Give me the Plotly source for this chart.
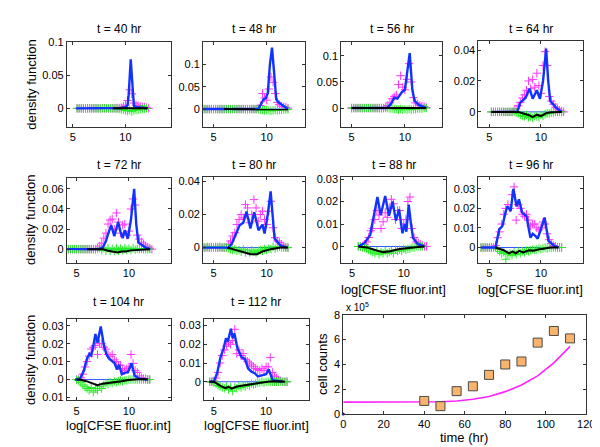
import plotly.graph_objects as go

# ---------------- data ----------------
# shared sampling grid of log CFSE intensity for the measured points
XG = [4.0, 4.2, 4.4, 4.6, 4.8, 5.0, 5.2, 5.4, 5.6, 5.8, 6.0, 6.2, 6.4, 6.6, 6.8,
      7.0, 7.2, 7.4, 7.6, 7.8, 8.0, 8.2, 8.4, 8.6, 8.8, 9.0, 9.2, 9.4, 9.6, 9.8,
      10.0, 10.2, 10.4, 10.6, 10.8, 11.0, 11.2, 11.4, 11.6, 11.8, 12.0, 12.2]

TIMES_HR = [40, 48, 56, 64, 72, 80, 88, 96, 104, 112]

# measured density (x 1e-3), given as (first x on grid, values)
MAG_40 = (5.4, [0]*19 + [0.5, 0.5, 1, 3, 5, 12, 28, 22, 8, 5, 4, 3, 2, 2, 1, 0])
GRN_40 = (5.4, [0]*19 + [-0.5, -1, -1.5, -2, -3, -4, -3, -5, -3, -2, -2.5, -1, -1, -0.5, 0])
MAG_48 = (4.0, [0]*26 + [2, 8, 35, 25, 20, 45, 72, 60, 35, 15, 10, 6, 5, 4, 2])
GRN_48 = (4.0, [0]*26 + [-1, -2, -2, -3, -2, -3, -4, -3, -2, -3, -2, -2, -1, -1, -0.5])
MAG_56 = (5.0, [0]*16 + [2, 5, 10, 18, 22, 25, 45, 62, 40, 35, 55, 85, 50, 20, 10, 8, 5, 4, 3, 1])
GRN_56 = (5.0, [0]*18 + [-1, -1, -2, -2, -3, -2, -3, -2, -3, -2, -3, -2, -2, -1, -1, -1, 0, 0])
MAG_64 = (5.2, [0]*11 + [1, 2, 4, 6, 9, 11, 14, 20, 15, 21, 16, 25, 17, 12, 30, 39, 30, 10, 7, 5, 3, 2, 1, 0.5, 0])
GRN_64 = (5.2, [0]*12 + [-0.5, -1, -2, -2.5, -3, -2, -3.5, -3, -4, -2.5, -3, -3.5, -2, -2.5, -1.5, -1, -1, -0.5, -0.5, 0, 0, 0, 0])
MAG_72 = (4.2, [0]*14 + [1, 3, 6, 11, 16, 25, 29, 30, 20, 36, 27, 16, 24, 25, 14, 18, 40, 50, 44, 14, 10, 7, 5, 3, 2, 1, 0])
GRN_72 = (4.2, [0]*14 + [0.5, 1, -1, 1, -1.5, 1, -2, 0.5, -2, 1, -1.5, 0.5, -1, 1, -1, 0.5, -1, 1, -0.5, 0.5, 0, 0.5, 0, 0, 0, 0])
MAG_80 = (4.0, [0]*12 + [2, 4, 7, 9, 14, 17, 20, 18, 26, 24, 15, 20, 29, 24, 16, 20, 22, 17, 14, 22, 28, 12, 6, 4, 3, 2, 1, 0, 0])
GRN_80 = (4.0, [0.5, 0, 0.5, 0, 0.5, 0, 0.5, 0, 0.5, 0, 0, 0,
                -0.5, -1, -1.5, -1, -2, -1.5, -2.5, -1, -3, -2, -3, -1.5, -2.5, -3, -2, -1.5, -2, -1,
                -1.5, -0.5, -1, 0.5, -0.5, 0, 0.5, 0, 0, 0, 0])
MAG_88 = (5.6, [0, 0, 0, 1, 2, 4, 7, 8, 12, 16, 14, 8, 11, 15, 13, 17, 21, 19, 12, 16, 16, 8, 10, 12, 20, 22, 8, 4, 2, 1.5, 1, 0.5, 0, 0])
GRN_88 = (5.6, [0, 0, -0.5, -0.5, -1, -1.5, -2, -2.5, -3, -2, -3.5, -2.5, -3, -2, -3, -2.5, -2, -3, -1.5, -2, -1.5, -2, -1, -1.5, -1, -1, -0.5, -0.5, 0, 0, 0, 0])
MAG_96 = (4.2, [0]*7 + [1, 5, 8, 12, 17, 20, 22, 20, 27, 31, 14, 22, 20, 17, 16, 17, 14, 11, 12, 12, 10, 9, 10, 13, 12, 7, 4, 2, 1, 0.5, 0, 0, 0])
GRN_96 = (4.2, [0]*8 + [-1, -2, -3, -2.5, -6, -3.5, -3, -4, -2.5, -3.5, -2, -3, -2, -2.5, -1.5, -2, -1.5, -1, -1.5, -1, -0.5, -1, -0.5, 0, -0.5, 0, 0, 0, 0, 0, 0, 0])
MAG_104 = (5.0, [0, 0, 1, 3, 7, 10, 13, 17, 18, 19, 14, 20, 20, 18, 17, 14, 13, 14, 11, 10, 8, 8, 6, 5, 6, 7, 14, 9, 5, 4, 2, 1, 0.5, 0.5, 0, 0])
GRN_104 = (5.0, [0, -0.5, -1.5, -3, -4, -5, -6, -4.5, -7, -5, -6, -4, -5, -3, -2, -2.5, -1.5, -2, -1, -1.5, -1, -0.5, -1, -0.5, -0.5, 0, 0, 0, 0, 0, 0, 0, 0, 0, 0, 0])
MAG_112 = (4.6, [0, 0, 0.5, 2, 5, 10, 14, 17, 19, 21, 20, 22, 28, 15, 17, 14, 15, 12, 11, 10, 9, 8, 7, 6.5, 6, 7, 6, 8, 8, 13, 5, 3, 2, 1, 0.5, 0, 0, 0])
GRN_112 = (4.6, [0, 0, -0.5, -1, -2, -2.5, -3, -3.5, -2.5, -4, -3, -5, -3, -3.5, -2.5, -3, -2, -2.5, -1.5, -2, -1, -1.5, -1, -0.5, -0.5, 0, -0.5, 0, 0, 0, 0, 0, 0, 0, 0, 0, 0, 0])

# model density (blue) knots, x and y (x 1e-3)
BLUE_X = {
    40: [5.3, 9.0, 9.6, 10.0, 10.2, 10.3, 10.4, 10.5, 10.6, 10.7, 10.8, 11.0, 11.5, 12.1],
    48: [4.0, 9.2, 9.5, 9.7, 9.9, 10.1, 10.3, 10.5, 10.7, 10.9, 11.1, 11.5, 12.0],
    56: [5.0, 8.3, 8.7, 9.0, 9.3, 9.7, 10.0, 10.2, 10.45, 10.7, 10.9, 11.3, 12.0],
    64: [5.2, 7.7, 8.0, 8.3, 8.5, 8.9, 9.2, 9.6, 9.9, 10.2, 10.5, 10.7, 10.9, 11.5, 12.0],
    72: [4.06, 7.1, 7.5, 7.8, 8.0, 8.3, 8.6, 8.97, 9.2, 9.4, 9.6, 9.9, 10.2, 10.5, 10.7, 10.9, 11.6, 12.05],
    80: [4.0, 6.4, 6.7, 7.0, 7.45, 7.8, 8.1, 8.47, 8.83, 9.23, 9.6, 9.8, 10.1, 10.37, 10.55, 10.74, 11.3, 11.9],
    88: [5.6, 6.2, 6.75, 7.07, 7.45, 7.77, 8.2, 8.57, 8.92, 9.24, 9.55, 9.87, 10.1, 10.25, 10.48, 10.7, 10.9, 11.37, 12.0],
    96: [4.2, 5.6, 5.96, 6.27, 6.6, 6.75, 7.07, 7.33, 7.64, 7.87, 8.18, 8.4, 8.6, 8.98, 9.2, 9.46, 9.68, 9.94, 10.35, 10.73, 11.37, 11.7],
    104: [4.85, 5.3, 5.68, 6.0, 6.23, 6.4, 6.6, 6.8, 7.0, 7.31, 7.62, 7.84, 8.09, 8.4, 8.64, 8.86, 9.07, 9.32, 9.63, 9.9, 10.25, 10.55, 11.0, 11.8],
    112: [4.53, 5.0, 5.31, 5.63, 5.94, 6.16, 6.34, 6.63, 6.8, 6.97, 7.25, 7.66, 7.97, 8.28, 8.6, 8.9, 9.22, 9.63, 10.0, 10.25, 10.63, 11.56],
}
BLUE_Y = {
    40: [0, 0, 0.5, 2, 5, 20, 55, 74, 50, 15, 4, 2, 1, 0],
    48: [0, 0, 12, 22, 24, 35, 100, 138, 80, 22, 15, 8, 0],
    56: [0, 0, 8, 20, 18, 30, 35, 70, 105, 35, 14, 6, 0],
    64: [0, 0, 6, 8, 9, 15, 8.5, 14, 8.5, 20, 41, 20, 7, 2.5, 0],
    72: [0, 0, 1.6, 8, 15, 24, 13, 27, 17, 11, 19, 10.6, 30, 60, 25, 6.5, 1.6, 0],
    80: [0, 0, 2, 6.5, 13.5, 15, 21.8, 11.5, 21.4, 10.5, 13.9, 8.5, 20, 34, 18, 5.5, 1.2, 0],
    88: [0, 1.5, 5.2, 13.7, 22, 14, 22.5, 13.7, 20, 11.5, 16.5, 5.9, 10, 6.6, 18.6, 10, 3.8, 1, 0],
    96: [0, 0, 9.3, 11, 18.6, 21, 18.6, 30, 21, 24.6, 17.8, 17, 16, 5, 7, 6, 4.5, 8.5, 15.3, 3.4, 0.5, 0],
    104: [0, 0, 4.7, 11.8, 14.4, 13.5, 18.8, 25.4, 20.5, 29.6, 18.8, 14.4, 11.8, 10, 9.1, 5.6, 8.2, 3, 3.9, 4, 9.1, 2.1, 0.5, 0],
    112: [0, 0, 4.6, 13, 18, 23.2, 21.5, 28.3, 23.2, 25.8, 18, 13, 12.2, 7.1, 5.4, 4.6, 2.9, 3.7, 4, 6.6, 0.8, 0],
}
# black (negative component) knots (x 1e-3)
BLK_X = {
    40: [8.8, 12.1], 48: [6.0, 9.3, 12.0], 56: [5.0, 9.0, 10.0, 11.0, 12.0],
    64: [5.2, 7.8, 8.3, 8.8, 9.2, 9.6, 10.0, 10.5, 11.0, 12.0],
    72: [6.0, 7.5, 8.0, 8.5, 8.9, 9.3, 9.7, 10.2, 11.0, 12.0],
    80: [6.3, 7.1, 8.0, 8.5, 9.1, 9.6, 10.5, 11.3, 12.0],
    88: [5.6, 6.4, 7.4, 8.0, 8.66, 9.6, 10.9, 11.5, 12.0],
    96: [5.6, 6.4, 6.9, 7.25, 7.55, 7.9, 8.3, 8.8, 9.3, 9.9, 10.9, 11.7],
    104: [5.0, 5.3, 5.93, 6.7, 7.0, 7.47, 8.09, 8.7, 9.32, 9.9, 11.2, 11.8],
    112: [4.6, 5.0, 5.63, 6.1, 6.4, 6.72, 7.2, 7.8, 8.44, 9.4, 10.3, 11.25, 11.8],
}
BLK_Y = {
    40: [0, 0], 48: [0, 0, -0.5], 56: [0, -0.5, -1, -0.5, 0],
    64: [0, 0, -1, -2, -3.4, -1.8, -2.7, -0.8, -0.3, 0],
    72: [0, 0, -1.6, -2.5, -3.2, -2.3, -2.3, -1.2, -0.5, 0],
    80: [0, -1.4, -2.8, -4, -4, -2.4, -0.8, 0, 0],
    88: [0, -0.4, -1.8, -2.5, -2.1, -1.1, -0.4, 0, 0],
    96: [0, -1.4, -3, -2, -3, -1.7, -2.5, -1.4, -1.7, -0.85, 0, 0],
    104: [0, 0, -0.9, -2.6, -3.2, -2.3, -1.9, -1.4, -0.9, -0.2, 0.3, 0],
    112: [0, 0, -2.2, -3.4, -2.7, -3.6, -2.5, -1.9, -1.4, -0.5, 0.2, 0.3, 0],
}
BASE_X = {40: [5.3, 12.1], 48: [4.0, 12.0], 56: [5.0, 12.0], 64: [5.2, 12.0], 72: [4.2, 12.1],
          80: [5.8, 11.8], 88: [5.6, 11.85], 96: [4.2, 12.0], 104: [5.0, 11.8], 112: [4.6, 11.8]}

MAG = {40: MAG_40, 48: MAG_48, 56: MAG_56, 64: MAG_64, 72: MAG_72, 80: MAG_80,
       88: MAG_88, 96: MAG_96, 104: MAG_104, 112: MAG_112}
GRN = {40: GRN_40, 48: GRN_48, 56: GRN_56, 64: GRN_64, 72: GRN_72, 80: GRN_80,
       88: GRN_88, 96: GRN_96, 104: GRN_104, 112: GRN_112}

# axis limits and ticks per panel
X_RANGE = {40: [4.43, 14.3], 48: [4.02, 13.6], 56: [4.03, 13.5], 64: [3.95, 14.1], 72: [4.06, 14.0],
           80: [4.02, 13.6], 88: [3.95, 14.1], 96: [3.95, 14.1], 104: [4.07, 14.0], 112: [4.06, 14.1]}
Y_RANGE = {40: [-0.028, 0.1], 48: [-0.04, 0.15], 56: [-0.036, 0.126], 64: [-0.0097, 0.0457],
           72: [-0.0139, 0.0704], 80: [-0.0094, 0.0424], 88: [-0.0074, 0.0307], 96: [-0.008, 0.0358],
           104: [-0.0116, 0.034], 112: [-0.0099, 0.0337]}
Y_TICKS = {40: [0, 0.05, 0.1], 48: [0, 0.05, 0.1], 56: [0, 0.05, 0.1], 64: [0, 0.02, 0.04],
           72: [0, 0.02, 0.04, 0.06], 80: [0, 0.02, 0.04], 88: [0, 0.01, 0.02, 0.03],
           96: [0, 0.01, 0.02, 0.03], 104: [-0.01, 0, 0.01, 0.02, 0.03], 112: [-0.01, 0, 0.01, 0.02, 0.03]}
X_TICKS = [5, 10]

# cell counts panel
COUNT_T = [40, 48, 56, 64, 72, 80, 88, 96, 104, 112]
COUNT_V = [1.05e5, 0.63e5, 1.84e5, 2.23e5, 3.15e5, 3.99e5, 4.23e5, 5.75e5, 6.69e5, 6.09e5]
MODEL_T = [0, 8, 16, 24, 32, 40, 48, 56, 64, 72, 80, 88, 96, 104, 112]
MODEL_V = [0.95e5, 0.95e5, 0.95e5, 0.95e5, 0.95e5, 0.95e5, 0.98e5, 1.05e5, 1.18e5, 1.40e5,
           1.80e5, 2.33e5, 3.07e5, 4.12e5, 5.45e5]

# ---------------- layout geometry (pixels) ----------------
W, H = 600, 447
PANEL_BOX = {40: (57, 163, 29, 116), 48: (196, 300, 29, 116), 56: (337, 440, 29, 116), 64: (477, 584, 28, 116),
             72: (57, 163, 169, 256), 80: (196, 300, 168, 256), 88: (337, 444, 168, 256), 96: (477, 584, 168, 256),
             104: (57, 163, 313, 397), 112: (197, 304, 313, 397)}
COUNT_BOX = (339, 587, 309, 411)
TITLE_Y = {40: 15, 48: 15, 56: 15, 64: 15, 72: 155, 80: 155, 88: 155, 96: 155, 104: 296, 112: 296}

FONT = "Liberation Sans, Arial, sans-serif"
AXC = "#333333"


def px(x):
    return x / W


def py(y):
    return 1 - y / H


def fmt(v):
    if v == 0:
        return "0"
    return ("%g" % abs(v))


def on_grid(spec):
    x0, vals = spec
    i0 = int(round((x0 - XG[0]) / 0.2))
    xs = XG[i0:i0 + len(vals)]
    return xs, [v * 1e-3 for v in vals]


fig = go.Figure()
layout = {}
annotations = []

for k, t in enumerate(TIMES_HR):
    n = k + 1
    xa = "x" if n == 1 else "x%d" % n
    ya = "y" if n == 1 else "y%d" % n
    l, r, tp, b = PANEL_BOX[t]

    bx = BASE_X[t]
    fig.add_trace(go.Scatter(x=bx, y=[0, 0], mode="lines", line=dict(color="#3355ff", width=1),
                             xaxis=xa, yaxis=ya, showlegend=False, hoverinfo="skip"))
    mx, my = on_grid(MAG[t])
    fig.add_trace(go.Scatter(x=mx, y=my, mode="markers",
                             marker=dict(symbol="cross-thin", size=6, line=dict(color="#ff33ff", width=1)),
                             xaxis=xa, yaxis=ya, showlegend=False))
    gx, gy = on_grid(GRN[t])
    fig.add_trace(go.Scatter(x=gx, y=gy, mode="markers",
                             marker=dict(symbol="cross-thin", size=6, line=dict(color="#22ee22", width=1)),
                             xaxis=xa, yaxis=ya, showlegend=False))
    fig.add_trace(go.Scatter(x=BLUE_X[t], y=[v * 1e-3 for v in BLUE_Y[t]], mode="lines",
                             line=dict(color="#1133ff", width=2.4),
                             xaxis=xa, yaxis=ya, showlegend=False))
    fig.add_trace(go.Scatter(x=BLK_X[t], y=[v * 1e-3 for v in BLK_Y[t]], mode="lines",
                             line=dict(color="#000000", width=2),
                             xaxis=xa, yaxis=ya, showlegend=False))

    ax_common = dict(showline=True, mirror="ticks", linecolor=AXC, linewidth=1, ticks="inside",
                     ticklen=3, tickcolor=AXC, showgrid=False, zeroline=False,
                     tickfont=dict(family=FONT, size=11, color="black"))
    layout["xaxis" if n == 1 else "xaxis%d" % n] = dict(
        domain=[px(l), px(r)], range=X_RANGE[t], tickvals=X_TICKS, ticktext=[str(v) for v in X_TICKS],
        anchor=ya, **ax_common)
    layout["yaxis" if n == 1 else "yaxis%d" % n] = dict(
        domain=[py(b), py(tp)], range=Y_RANGE[t], tickvals=Y_TICKS[t],
        ticktext=[fmt(v) for v in Y_TICKS[t]], anchor=xa, **ax_common)

    annotations.append(dict(text="t = %d hr" % t, x=px((l + r) / 2), y=py(TITLE_Y[t]), xref="paper",
                            yref="paper", showarrow=False, xanchor="center", yanchor="middle",
                            font=dict(family=FONT, size=12, color="black")))

# cell counts panel (axis 11)
fig.add_trace(go.Scatter(x=MODEL_T, y=MODEL_V, mode="lines", line=dict(color="#ff22ff", width=1.6),
                         xaxis="x11", yaxis="y11", showlegend=False))
fig.add_trace(go.Scatter(x=COUNT_T, y=COUNT_V, mode="markers",
                         marker=dict(symbol="square", size=9, color="#f8b46c",
                                     line=dict(color="#4a4a4a", width=1)),
                         xaxis="x11", yaxis="y11", showlegend=False))
fig.add_trace(go.Scatter(x=[0], y=[0], mode="markers", marker=dict(color="#0000ff", size=3),
                         xaxis="x11", yaxis="y11", showlegend=False, cliponaxis=False))
l, r, tp, b = COUNT_BOX
ax11 = dict(showline=True, mirror="ticks", linecolor=AXC, linewidth=1, ticks="inside", ticklen=3,
            tickcolor=AXC, showgrid=False, zeroline=False, tickfont=dict(family=FONT, size=11, color="black"))
layout["xaxis11"] = dict(domain=[px(l), px(r)], range=[0, 120], tickvals=[0, 20, 40, 60, 80, 100, 120],
                         anchor="y11", **ax11)
layout["yaxis11"] = dict(domain=[py(b), py(tp)], range=[0, 8e5], tickvals=[0, 2e5, 4e5, 6e5, 8e5],
                         ticktext=["0", "2", "4", "6", "8"], anchor="x11", **ax11)

lab = dict(family=FONT, size=13, color="black")
for yc in (73, 212, 356):
    annotations.append(dict(text="density function", x=px(20), y=py(yc), xref="paper", yref="paper",
                            showarrow=False, textangle=-90, xanchor="center", yanchor="middle", font=lab))
for xc, yc in ((390, 283), (530, 283), (110, 423), (250, 423)):
    annotations.append(dict(text="log[CFSE fluor.int]", x=px(xc), y=py(yc), xref="paper", yref="paper",
                            showarrow=False, xanchor="center", yanchor="middle", font=lab))
annotations.append(dict(text="time (hr)", x=px(462), y=py(435), xref="paper", yref="paper",
                        showarrow=False, xanchor="center", yanchor="middle", font=lab))
annotations.append(dict(text="cell counts", x=px(318), y=py(360), xref="paper", yref="paper",
                        showarrow=False, textangle=-90, xanchor="center", yanchor="middle", font=lab))
annotations.append(dict(text="x 10<sup>5</sup>", x=px(340), y=py(301), xref="paper", yref="paper",
                        showarrow=False, xanchor="left", yanchor="middle",
                        font=dict(family=FONT, size=10, color="black")))

fig.update_layout(width=W, height=H, margin=dict(l=0, r=0, t=0, b=0), paper_bgcolor="white",
                  plot_bgcolor="white", annotations=annotations, **layout)
fig.write_html("out.html")
